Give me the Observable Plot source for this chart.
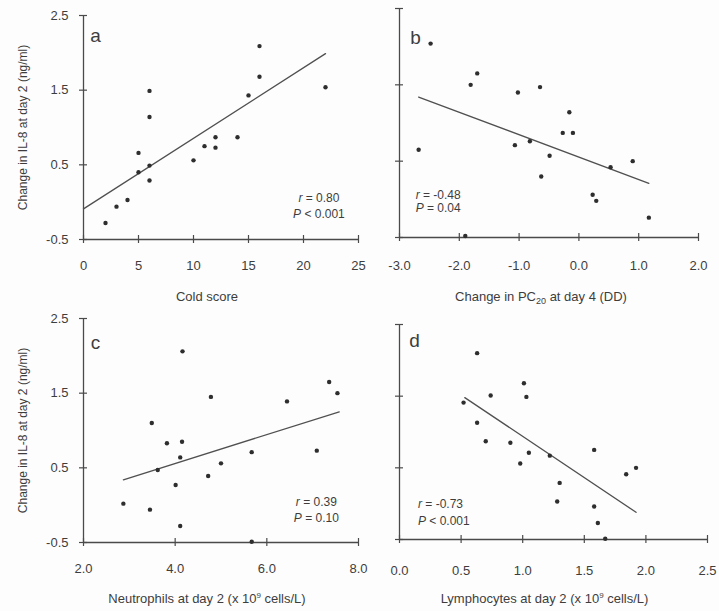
<!DOCTYPE html>
<html>
<head>
<meta charset="utf-8">
<script src="https://cdn.jsdelivr.net/npm/d3@7"></script>
<script src="https://cdn.jsdelivr.net/npm/@observablehq/plot@0.6"></script>
<style>
  body { margin: 0; background: #ffffff; }
  #wrap { position: relative; width: 719px; height: 611px; background: #fdfdfd; overflow: hidden; }
  .panel { position: absolute; }
</style>
</head>
<body>
<div id="wrap"></div>
<script>
// ---------- data ----------
const yTicks = [-0.5, 0.5, 1.5, 2.5];
const yTitle = "Change in IL-8 at day 2 (ng/ml)";

// panel a
const coldScore = [2, 3, 4, 5, 5, 6, 6, 6, 6, 10, 11, 12, 12, 14, 15, 16, 16, 22];
const il8A = [-0.28, -0.06, 0.03, 0.66, 0.40, 1.49, 1.14, 0.49, 0.29, 0.56, 0.75, 0.87, 0.73, 0.87, 1.43, 1.68, 2.09, 1.54];
const fitAx = [0, 22];
const fitAy = [-0.09, 1.99];
const ticksA = [0, 5, 10, 15, 20, 25];
const labelA = "Cold score";
const statsA = ["r = 0.80", "P < 0.001"];

// panel b
const pc20Change = [-2.48, -2.68, -1.81, -1.70, -1.02, -1.07, -0.82, -0.65, -0.49, -0.63, -0.27, -0.10, -0.16, 0.23, 0.29, 0.53, 0.90, 1.17, -1.90];
const il8B = [2.04, 0.65, 1.50, 1.65, 1.40, 0.71, 0.76, 1.47, 0.57, 0.30, 0.87, 0.87, 1.14, 0.06, -0.02, 0.42, 0.50, -0.24, -0.48];
const fitBx = [-2.68, 1.17];
const fitBy = [1.34, 0.21];
const ticksB = [-3, -2, -1, 0, 1, 2];
const labelB = "Change in PC20 at day 4 (DD)";
const statsB = ["r = -0.48", "P = 0.04"];

// panel c
const neutrophils = [2.87, 3.45, 3.49, 3.62, 3.82, 4.01, 4.11, 4.11, 4.15, 4.16, 4.72, 4.78, 5.00, 5.67, 5.67, 6.44, 7.09, 7.36, 7.54];
const il8C = [0.02, -0.06, 1.10, 0.47, 0.83, 0.27, -0.28, 0.64, 0.85, 2.06, 0.39, 1.45, 0.56, 0.71, -0.49, 1.39, 0.73, 1.65, 1.50];
const fitCx = [2.87, 7.58];
const fitCy = [0.34, 1.25];
const ticksC = [2, 4, 6, 8];
const labelC = "Neutrophils at day 2 (x 109 cells/L)";
const statsC = ["r = 0.39", "P = 0.10"];

// panel d
const lymphocytes = [0.52, 0.63, 0.63, 0.74, 0.70, 0.90, 0.98, 1.01, 1.03, 1.05, 1.22, 1.30, 1.28, 1.58, 1.58, 1.61, 1.67, 1.84, 1.92];
const il8D = [1.41, 2.10, 1.13, 1.51, 0.87, 0.85, 0.56, 1.68, 1.49, 0.71, 0.67, 0.29, 0.03, 0.75, -0.04, -0.27, -0.49, 0.41, 0.50];
const fitDx = [0.53, 1.92];
const fitDy = [1.48, -0.12];
const ticksD = [0, 0.5, 1, 1.5, 2, 2.5];
const labelD = "Lymphocytes at day 2 (x 109 cells/L)";
const statsD = ["r = -0.73", "P < 0.001"];

// ---------- drawing ----------
const FONT = '"Liberation Sans", Arial, Helvetica, sans-serif';
const INK = "#3d3d3d";
const AXIS = "#4a4a4a";
const NS = "http://www.w3.org/2000/svg";

function zip(xs, ys) { return xs.map((x, i) => ({x, y: ys[i]})); }

function panel(cfg) {
  const pts = zip(cfg.xs, cfg.ys);
  const fit = zip(cfg.fitX, cfg.fitY);
  const xMin = cfg.xTicks[0], xMax = cfg.xTicks[cfg.xTicks.length - 1];
  const yMin = yTicks[0], yMax = yTicks[yTicks.length - 1];
  const marks = [
    // axis lines
    Plot.ruleY([yMin], {stroke: AXIS, strokeWidth: 1.3}),
    Plot.ruleX([xMin], {stroke: AXIS, strokeWidth: 1.3}),
    // crossing tick marks
    Plot.ruleX(cfg.xTicks, {x: d => d, y1: yMin, y2: yMin, insetTop: -4, insetBottom: -4, stroke: AXIS, strokeWidth: 1.2}),
    Plot.ruleY(yTicks, {y: d => d, x1: xMin, x2: xMin, insetLeft: -4, insetRight: -4, stroke: AXIS, strokeWidth: 1.2}),
    // tick labels
    Plot.axisX({ticks: cfg.xTicks, tickSize: 0, tickPadding: cfg.xPad, tickFormat: cfg.xFmt, fontSize: 13, fill: INK, label: null}),
    // regression line
    Plot.line(fit, {x: "x", y: "y", stroke: "#505050", strokeWidth: 1.3}),
    // points
    Plot.dot(pts, {x: "x", y: "y", r: 2.2, fill: "#2e2e2e", stroke: "none"}),
    // panel letter
    Plot.text([cfg.letter], {frameAnchor: "top-left", dx: cfg.letterDx, dy: cfg.letterDy, fontSize: 19, fill: INK, textAnchor: "middle", lineAnchor: "middle"}),
    // statistics
    Plot.text([cfg.stats[0]], {x: cfg.statX, y: cfg.statY[0], textAnchor: cfg.statAnchor, fontSize: 12, fill: INK}),
    Plot.text([cfg.stats[1]], {x: cfg.statX, y: cfg.statY[1], textAnchor: cfg.statAnchor, fontSize: 12, fill: INK}),
    // x title
    Plot.text([cfg.label], {frameAnchor: "bottom", dx: cfg.labelDx, dy: cfg.labelDy, fontSize: 13, fill: INK, lineAnchor: "middle"})
  ];
  if (cfg.showY) {
    marks.push(Plot.axisY({ticks: yTicks, tickSize: 0, tickPadding: 15, tickFormat: d => d.toFixed(1), fontSize: 13, fill: INK, label: null}));
    marks.push(Plot.text([yTitle], {frameAnchor: "left", dx: -60, rotate: -90, textAnchor: "middle", lineAnchor: "middle", fontSize: 12, fill: INK}));
  }
  const svg = Plot.plot({
    width: cfg.width, height: cfg.height,
    marginLeft: cfg.ml, marginRight: cfg.mr, marginTop: cfg.mt, marginBottom: cfg.mb,
    style: {background: "transparent", fontFamily: FONT, color: INK, overflow: "visible"},
    x: {domain: [xMin, xMax]},
    y: {domain: [yMin, yMax], axis: cfg.showY ? undefined : null},
    marks
  });
  // italic r / P and sub/superscripts
  for (const t of svg.querySelectorAll("text")) {
    const s = t.textContent;
    const m = s.match(/^([rP])( [=<] .*)$/);
    if (m) {
      t.textContent = "";
      const it = document.createElementNS(NS, "tspan");
      it.setAttribute("font-style", "italic");
      it.textContent = m[1];
      t.append(it, m[2]);
      continue;
    }
    if (s.includes("PC20")) {
      const [pre, post] = s.split("PC20");
      t.textContent = "";
      const a = document.createElementNS(NS, "tspan"); a.textContent = pre + "PC";
      const b = document.createElementNS(NS, "tspan"); b.textContent = "20"; b.setAttribute("font-size", "9"); b.setAttribute("dy", "3");
      const c = document.createElementNS(NS, "tspan"); c.textContent = post; c.setAttribute("dy", "-3");
      t.append(a, b, c);
      continue;
    }
    if (s.includes("x 109 ")) {
      const [pre, post] = s.split("x 109 ");
      t.textContent = "";
      const a = document.createElementNS(NS, "tspan"); a.textContent = pre + "x 10";
      const b = document.createElementNS(NS, "tspan"); b.textContent = "9"; b.setAttribute("font-size", "8"); b.setAttribute("dy", "-5");
      const c = document.createElementNS(NS, "tspan"); c.textContent = " " + post; c.setAttribute("dy", "5");
      t.append(a, b, c);
    }
  }
  const div = document.createElement("div");
  div.className = "panel";
  div.style.left = cfg.left + "px";
  div.style.top = cfg.top + "px";
  div.append(svg);
  document.getElementById("wrap").append(div);
}

const f1 = d => d.toFixed(1);

panel({
  left: 0, top: 0, width: 360, height: 305, ml: 83, mr: 2, mt: 15, mb: 66,
  xs: coldScore, ys: il8A, fitX: fitAx, fitY: fitAy, xTicks: ticksA, xFmt: d => String(d), xPad: 21,
  letter: "a", letterDx: 12, letterDy: 20, stats: statsA, statX: 21.4, statY: [0.06, -0.16], statAnchor: "middle",
  label: labelA, labelDx: -14, labelDy: 57, showY: true
});
panel({
  left: 360, top: 0, width: 359, height: 305, ml: 39, mr: 21, mt: 8, mb: 68,
  xs: pc20Change, ys: il8B, fitX: fitBx, fitY: fitBy, xTicks: ticksB, xFmt: f1, xPad: 23,
  letter: "b", letterDx: 16, letterDy: 29, stats: statsB, statX: -2.73, statY: [0.05, -0.12], statAnchor: "start",
  label: labelB, labelDx: -8, labelDy: 59, showY: false
});
panel({
  left: 0, top: 305, width: 360, height: 306, ml: 83, mr: 2, mt: 13, mb: 69,
  xs: neutrophils, ys: il8C, fitX: fitCx, fitY: fitCy, xTicks: ticksC, xFmt: f1, xPad: 21,
  letter: "c", letterDx: 12, letterDy: 24, stats: statsC, statX: 7.08, statY: [0.04, -0.18], statAnchor: "middle",
  label: labelC, labelDx: -14, labelDy: 56, showY: true
});
panel({
  left: 360, top: 305, width: 359, height: 306, ml: 39, mr: 12, mt: 19, mb: 72,
  xs: lymphocytes, ys: il8D, fitX: fitDx, fitY: fitDy, xTicks: ticksD, xFmt: f1, xPad: 26,
  letter: "d", letterDx: 15, letterDy: 16, stats: statsD, statX: 0.15, statY: [0.0, -0.25], statAnchor: "start",
  label: labelD, labelDx: -9, labelDy: 59, showY: false
});
</script>
</body>
</html>
